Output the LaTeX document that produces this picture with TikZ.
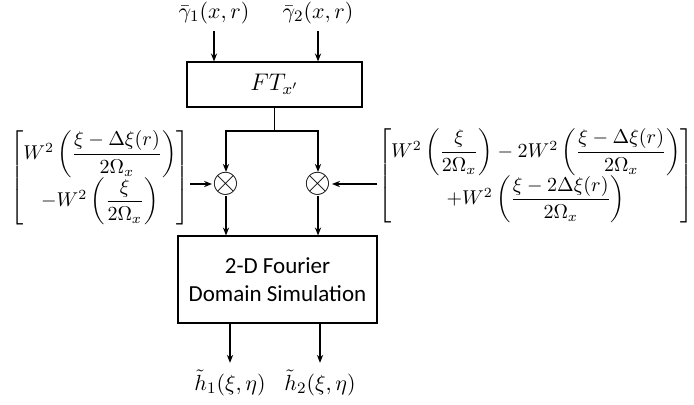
\documentclass[tikz,border=0pt]{standalone}
\usepackage{amsmath,amssymb}
\usepackage{fontspec}
\setsansfont{Carlito}
\usetikzlibrary{arrows.meta}

\begin{document}
\begin{tikzpicture}[x=0.5pt,y=-0.5pt,>={Stealth[length=1.4mm,width=1.1mm]},line width=0.6pt,
  blk/.style={draw,inner sep=0pt,align=center},
  lbl/.style={font=\fontsize{11}{13}\selectfont},
  wgt/.style={font=\fontsize{9.8}{12}\selectfont,inner sep=0pt},
  mul/.style={inner sep=0pt,font=\fontsize{17}{17}\selectfont}]
\useasboundingbox (0,0) rectangle (694,404);
% inputs and transform
\node[lbl] (in1) at (214,13) {$\bar{\gamma}_1(x,r)$};
\node[lbl] (in2) at (318,13) {$\bar{\gamma}_2(x,r)$};
\node[blk,minimum width=87.5pt,minimum height=22.5pt,font=\large] (ft) at (274.5,84.5) {$FT_{x'}$};
\draw[->] (in1) -- (in1 |- ft.north);
\draw[->] (in2) -- (in2 |- ft.north);
% multipliers
\node[mul] (mult1) at (226,184) {$\otimes$};
\node[mul] (mult2) at (318,184) {$\otimes$};
\coordinate (split) at (274.5,131);
\draw (ft) -- (split);
\draw[->] (split) -| (mult1);
\draw[->] (split) -| (mult2);
% weighting terms
\node[wgt] (leftm) at (100,178) {$\begin{bmatrix} W^2\left(\dfrac{\xi-\Delta\xi(r)}{2\Omega_x}\right)\\[4pt] -W^2\left(\dfrac{\xi}{2\Omega_x}\right)\end{bmatrix}$};
\node[wgt] (rightm) at (536,176) {$\begin{bmatrix} W^2\left(\dfrac{\xi}{2\Omega_x}\right)-2W^2\left(\dfrac{\xi-\Delta\xi(r)}{2\Omega_x}\right)\\[4pt] +W^2\left(\dfrac{\xi-2\Delta\xi(r)}{2\Omega_x}\right)\end{bmatrix}$};
\draw[->] (leftm.east |- mult1) -- (mult1);
\draw[->] (rightm.west |- mult2) -- (mult2);
% simulation and outputs
\node[blk,minimum width=99.5pt,minimum height=43.5pt,font=\sffamily\fontsize{11.5}{14}\selectfont] (sim) at (277.5,279.5) {2-D Fourier\\Domain Simulation};
\draw[->] (mult1) -- (mult1 |- sim.north);
\draw[->] (mult2) -- (mult2 |- sim.north);
\node[lbl] (out1) at (230,383) {$\tilde{h}_1(\xi,\eta)$};
\node[lbl] (out2) at (320,383) {$\tilde{h}_2(\xi,\eta)$};
\draw[->] (sim.south -| out1) -- (out1);
\draw[->] (sim.south -| out2) -- (out2);
\end{tikzpicture}
\end{document}
